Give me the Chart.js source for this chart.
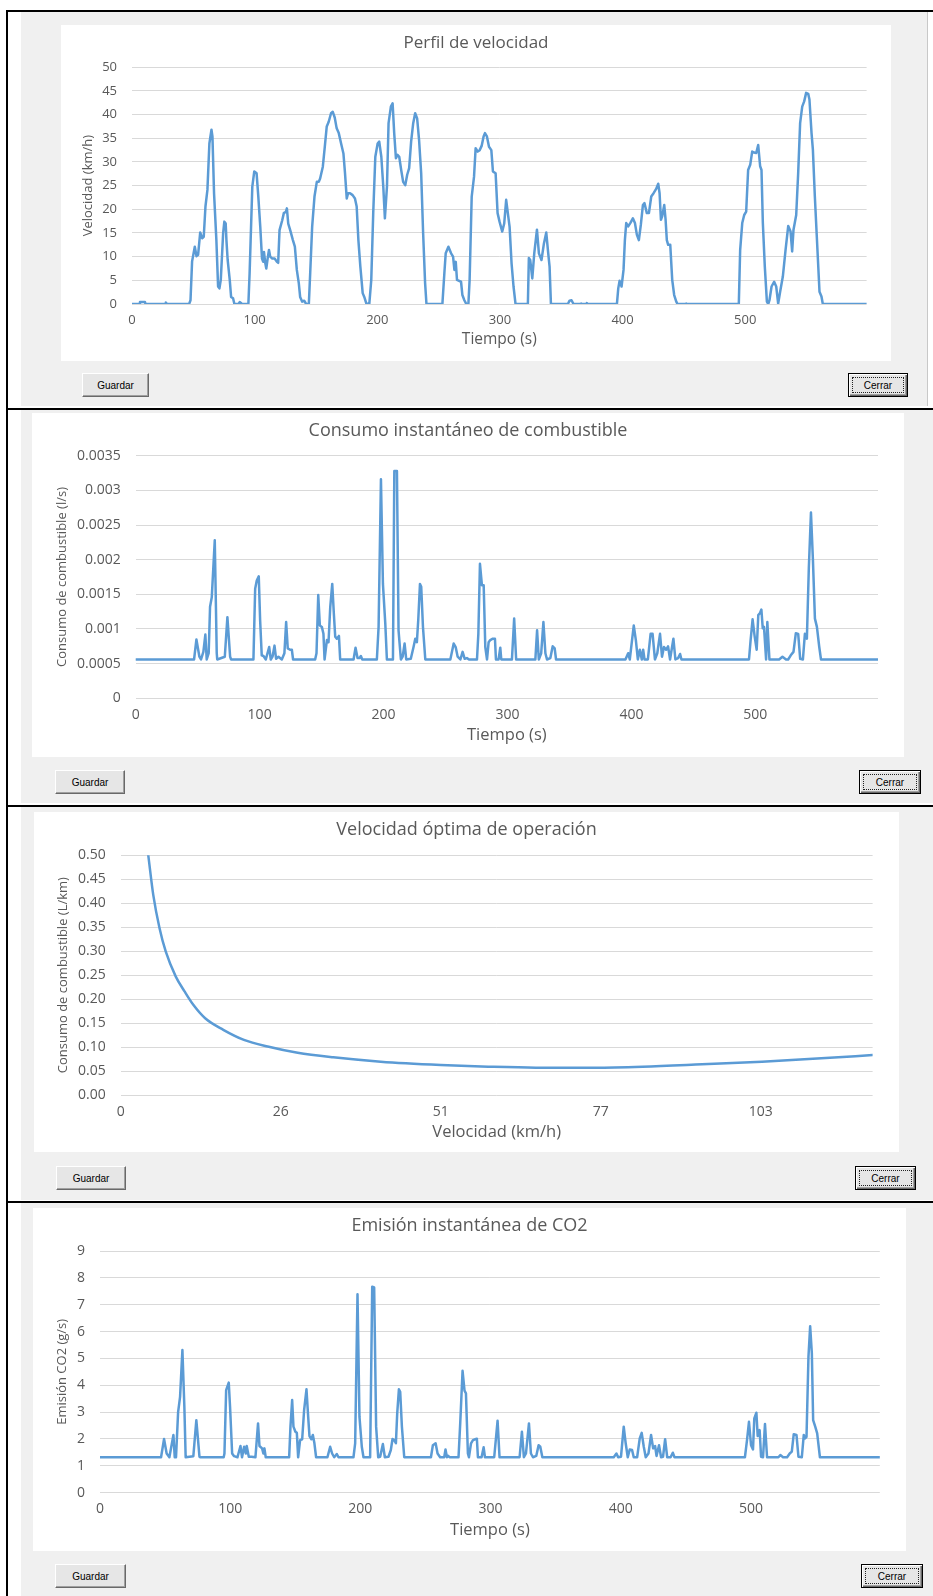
<!DOCTYPE html>
<html lang="es">
<head>
<meta charset="utf-8">
<title>Perfil de velocidad, consumo y emisiones</title>
<script src="https://cdn.jsdelivr.net/npm/chart.js@4.4.1/dist/chart.umd.min.js"></script>
<style>
  body { margin: 0; width: 933px; height: 1596px; position: relative; background: #fff; overflow: hidden; }
  .linea { position: absolute; background: #000; }
  .form { position: absolute; background: #f0f0f0; }
  canvas { position: absolute; background: #fff; }
  .boton {
    position: absolute; box-sizing: border-box; height: 24px;
    background: #e6e6e6; color: #000;
    border: 1px solid; border-color: #fff #696969 #696969 #fff;
    box-shadow: inset -1px -1px 0 #a0a0a0;
    font: 10px "Liberation Sans", Arial, sans-serif;
    display: flex; align-items: center; justify-content: center;
  }
  .boton.defecto { border: 1px solid #000; box-shadow: inset 1px 1px 0 #fff, inset -1px -1px 0 #696969, inset -2px -2px 0 #a0a0a0; }
  .boton.defecto::after { content: ''; position: absolute; left: 3px; top: 3px; right: 3px; bottom: 3px; border: 1px dotted #222; }
</style>
</head>
<body>

<!-- marcos de los cuatro formularios -->
<div class="linea" style="left:6px; top:10px; width:2px; height:1586px"></div>
<div class="linea" style="left:6px; top:10px; width:927px; height:2px"></div>
<div class="form" style="left:21px; top:12px; width:906px; height:394px; border-right:1px solid #c8c8c8"></div>
<div class="linea" style="left:6px; top:408px; width:927px; height:2px"></div>
<div class="form" style="left:21px; top:410px; width:912px; height:393px"></div>
<div class="linea" style="left:6px; top:805px; width:927px; height:2px"></div>
<div class="form" style="left:21px; top:807px; width:912px; height:393px"></div>
<div class="linea" style="left:6px; top:1201px; width:927px; height:2px"></div>
<div class="form" style="left:21px; top:1203px; width:912px; height:393px"></div>

<canvas id="graficoVelocidad" width="830" height="336" style="left:61px; top:25px"></canvas>
<canvas id="graficoConsumo" width="872" height="344" style="left:32px; top:413px"></canvas>
<canvas id="graficoOptima" width="865" height="340" style="left:34px; top:812px"></canvas>
<canvas id="graficoCO2" width="873" height="343" style="left:33px; top:1208px"></canvas>

<div class="boton" style="left:82px; top:373px; width:67px">Guardar</div>
<div class="boton defecto" style="left:848px; top:373px; width:60px">Cerrar</div>
<div class="boton" style="left:55px; top:770px; width:70px">Guardar</div>
<div class="boton defecto" style="left:859px; top:770px; width:62px">Cerrar</div>
<div class="boton" style="left:56px; top:1166px; width:70px">Guardar</div>
<div class="boton defecto" style="left:855px; top:1166px; width:61px">Cerrar</div>
<div class="boton" style="left:55px; top:1564px; width:71px">Guardar</div>
<div class="boton defecto" style="left:861px; top:1564px; width:62px">Cerrar</div>

<script>
// Marcas del eje de tiempo (s)
const ticksTiempo = [0, 100, 200, 300, 400, 500];

// Perfil de velocidad (km/h) frente al tiempo (s)
const tiempoVel = [0, 6, 6.5, 10.6, 11, 27, 27.6, 28.5, 46.6, 47.7, 49, 51.2, 52.6, 53.9, 55.6, 57.2, 58.5, 59.9, 61.5, 63.1,
  64.8, 65.6, 66.9, 68.8, 70.2, 71.3, 72.4, 74.3, 75.3, 76.4, 77, 78, 79.7, 80.8, 82.4, 83.5, 86.8, 87.8, 89.4, 90,
  94.9, 95.9, 98.1, 99.7, 101.6, 103, 104.6, 106, 107, 107.6, 108.7, 109.5, 110.6, 111.7, 112.7, 114.4, 116.3, 118.2, 119.2, 120.3,
  122.5, 123.8, 125.5, 126.3, 127.4, 129, 131.2, 132.8, 134.4, 136, 137.1, 138.8, 140.4, 142, 144.2, 145.3, 146.9, 148.8, 150.7, 152.3,
  153.4, 155.6, 157.2, 158.8, 160.4, 162.3, 163.7, 165.3, 166.9, 168.6, 170.5, 172.4, 173.7, 175.1, 176.2, 177.8, 179.9, 181.8, 183.2, 184.6,
  186.2, 188.1, 189.4, 191.1, 193.5, 195.1, 196.7, 198.4, 200.3, 201.6, 203.3, 204.9, 206.2, 207.9, 209.2, 211.1, 212.5, 213.8, 215.2, 216.5,
  217.9, 219.5, 221.1, 222.8, 224.4, 226, 227.6, 229.3, 230.9, 232.5, 234.1, 235.8, 237.4, 239, 240.1, 253.1, 254.7, 255.8, 258, 260.2,
  261.8, 262.9, 264, 265, 266.7, 268.3, 269.4, 271, 272.6, 274.3, 275.3, 277, 278.9, 280.2, 281.9, 283.5, 285.1, 286.7, 287.8, 289.4,
  291.1, 293, 294.3, 296.5, 298.1, 299.7, 301.9, 303.5, 305.1, 306.8, 307.9, 309.5, 311.1, 312.7, 313.3, 322.8, 323.6, 324.7, 326.4, 328,
  330.2, 331.8, 333.9, 335.9, 337.8, 339.4, 340.5, 341.6, 355.4, 356.8, 358.4, 360, 365.5, 366.3, 367, 370.2, 370.9, 371.6, 395.4, 396.5,
  397.6, 399.2, 400.8, 401.9, 403, 404.6, 406.3, 408.4, 410.1, 411.7, 413.3, 414.9, 416.6, 417.9, 419.8, 421.5, 423.4, 425.3, 427.4, 429.1,
  430.2, 431.3, 432.3, 434, 435.1, 436.1, 437.2, 438.9, 440.5, 442.1, 443.8, 444.8, 451.2, 451.9, 452.6, 494.8, 495.9, 497.6, 499.2, 500.8,
  502.4, 504.1, 505.7, 507.3, 509, 510.6, 512.2, 513.3, 514.4, 516, 517.7, 518.8, 519.8, 521.5, 523.6, 525.3, 526.9, 528.5, 530.7, 532.9,
  535.1, 537, 538.3, 539.4, 541.6, 543.2, 544.8, 546.5, 548.1, 549.7, 551.4, 552.4, 554.1, 555.2, 556.8, 558.4, 560.6, 562.2, 563.3, 599];
const velocidad = [0, 0, 0.4, 0.4, 0, 0, 0.3, 0, 0, 0.8, 9, 12.1, 10.1, 10.4, 15.1, 13.9, 14.2, 20.6, 24.1, 33.9,
  36.8, 35.4, 23.4, 13.5, 3.7, 3.3, 5.1, 14.9, 17.4, 17, 13.5, 9.3, 5.1, 1.5, 1.2, 0, 0, 0.4, 0.1, 0,
  0, 6.5, 24.8, 28, 27.6, 22.7, 16.3, 9.6, 8.9, 11, 8.6, 7.5, 9.6, 11.4, 10, 9.6, 9.6, 8.9, 8.7, 15.6,
  17.7, 19.2, 19.5, 20.2, 17, 15.6, 13.5, 12.1, 7.2, 4.4, 1.5, 0.5, 0.7, 0, 0, 6.5, 16.3, 22.7, 25.8, 25.8,
  26.5, 29, 33.2, 37.5, 38.5, 40.3, 40.6, 39.4, 37.1, 36.1, 33.9, 31.8, 27.6, 22.3, 23.4, 23.4, 23, 22.3, 20.6, 13.5,
  7.9, 2.3, 1.5, 0.1, 0, 5.1, 19.2, 31.1, 33.9, 34.3, 31.1, 24.8, 18.1, 24.8, 38.2, 41.7, 42.4, 36.1, 30.8, 31.5,
  31.1, 28.3, 25.8, 25.1, 27.3, 28.7, 34.3, 38.2, 40.3, 39.2, 34.6, 27.6, 14.9, 4.4, 0, 0, 6.5, 10.7, 12.1, 10.7,
  10, 7.2, 8.9, 5.1, 4.9, 4.7, 1.9, 0.8, 0, 0, 5.1, 22.7, 26.9, 32.9, 32.2, 32.5, 33.4, 35.4, 36.1, 35.4,
  33.2, 32.5, 28, 27.6, 19.2, 17.4, 15.3, 17, 22, 18.5, 16.3, 8.6, 3.7, 0.1, 0, 0, 9.7, 9.3, 5.4, 10.7,
  15.7, 10.7, 9.3, 12.8, 15.1, 10.7, 7.9, 0, 0, 0.7, 0.8, 0, 0, 0.1, 0, 0, 0.2, 0, 0, 3.3,
  4.9, 3.7, 7.2, 13.5, 17.1, 16.4, 17.1, 18.1, 17.1, 14.6, 13.5, 16.7, 20.9, 21.3, 19.2, 19.2, 22.7, 23.4, 24.3, 25.4,
  23.4, 17.8, 18.5, 20.9, 17.8, 13.5, 12.5, 12.5, 5.1, 1.9, 0.5, 0, 0, 0.1, 0, 0, 11.4, 17.1, 18.8, 19.5,
  28.3, 29.4, 32.2, 32, 31.9, 33.6, 29.1, 28.3, 17.1, 7.9, 0.5, 0, 0.8, 3.7, 4.7, 3.7, 0.1, 2.6, 5.8, 11.4,
  16.5, 15.3, 11.1, 15.7, 18.8, 27.6, 38.2, 41.7, 42.8, 44.6, 44.4, 43.2, 36.1, 32.6, 22.7, 14.2, 2.6, 1.6, 0, 0];

// Consumo instantaneo de combustible (l/s)
const tiempoCons = [0, 47.1, 49, 51.4, 52.7, 54.6, 56.2, 57.3, 58.9, 60, 61.4, 63.8, 65.4, 65.8, 71.9, 74, 76.2, 77, 95, 96.4,
  97.7, 99.3, 100.4, 101.7, 103.1, 105, 107.7, 109, 110.4, 112, 113.3, 115.2, 117.9, 120, 121.4, 122.7, 124.6, 126, 127, 144.8,
  145.9, 147.3, 148.6, 150.2, 151.5, 152.4, 154.3, 155.6, 157, 158.6, 159.9, 161, 162.3, 164, 165, 175.8, 177.4, 179, 180.6, 181.7,
  182.8, 194.6, 196, 197.9, 199.5, 201.4, 202.7, 207.6, 208.7, 210.8, 212.1, 214, 215.4, 217, 218.3, 222, 224.2, 225.6, 226.9, 228,
  229.4, 230.4, 231.8, 233.7, 253.9, 256.6, 258.2, 259.8, 262, 263.8, 265.5, 267.3, 269, 275.4, 276.5, 277.8, 279.4, 280.8, 282.1, 283.5,
  284.8, 286.1, 288.2, 289.9, 290.7, 292.8, 294.2, 295, 303.6, 305.4, 307, 322.5, 323.9, 325.3, 327.2, 329, 330.6, 331.9, 334.6, 336.5,
  338.1, 339.2, 395.2, 397.4, 398.7, 401.9, 403.6, 405.2, 406.8, 408.4, 409.5, 410.6, 413.3, 415.5, 417.1, 419, 420.9, 423.1, 424.7, 426.3,
  428, 429.6, 431.2, 433.9, 435.5, 437.7, 439.3, 440.4, 494.9, 496.2, 497.8, 499.5, 501.1, 502.4, 503.8, 504.9, 506, 507, 508.7, 509.7,
  511.4, 519.2, 521.9, 524.8, 526.5, 528.6, 530.8, 532.7, 534.6, 536.2, 538.4, 540, 541.6, 543.2, 544.9, 546.5, 548.1, 549.7, 551.6, 553,
  599];
const consumo = [0.00056, 0.00056, 0.00085, 0.0006, 0.00056, 0.00067, 0.00092, 0.00056, 0.00065, 0.00132, 0.00146, 0.00228, 0.00065, 0.00056, 0.0006, 0.00117, 0.0006, 0.00056, 0.00056, 0.00158,
  0.0017, 0.00176, 0.00113, 0.00062, 0.00061, 0.00056, 0.00074, 0.00056, 0.0006, 0.00076, 0.00057, 0.0006, 0.00056, 0.00065, 0.0011, 0.00072, 0.0007, 0.0007, 0.00056, 0.00056,
  0.00065, 0.00149, 0.00105, 0.00103, 0.00093, 0.00056, 0.00084, 0.00081, 0.00132, 0.00165, 0.00122, 0.00089, 0.00086, 0.0009, 0.00056, 0.00056, 0.00073, 0.00058, 0.00058, 0.00061,
  0.00056, 0.00056, 0.00103, 0.00316, 0.00165, 0.00108, 0.00056, 0.00056, 0.00328, 0.00328, 0.00098, 0.00056, 0.0006, 0.00079, 0.00056, 0.00057, 0.00074, 0.00086, 0.00081, 0.00113,
  0.00165, 0.00161, 0.00103, 0.00056, 0.00056, 0.00079, 0.00074, 0.0006, 0.00056, 0.00067, 0.00057, 0.00058, 0.00056, 0.00056, 0.00093, 0.00194, 0.00163, 0.00163, 0.00074, 0.00056,
  0.00081, 0.00084, 0.00086, 0.00086, 0.00056, 0.00056, 0.00073, 0.00056, 0.00056, 0.00115, 0.00056, 0.00056, 0.00098, 0.00056, 0.00065, 0.0011, 0.00065, 0.00056, 0.00058, 0.00075,
  0.00072, 0.00056, 0.00056, 0.00065, 0.00056, 0.00105, 0.00084, 0.00056, 0.0007, 0.00056, 0.0007, 0.00056, 0.00056, 0.00093, 0.00093, 0.00056, 0.00065, 0.00093, 0.0006, 0.00074,
  0.0007, 0.00075, 0.00056, 0.00086, 0.00056, 0.00058, 0.00064, 0.00056, 0.00056, 0.00084, 0.00114, 0.00089, 0.0007, 0.0012, 0.00123, 0.00128, 0.00101, 0.00103, 0.00056, 0.0011,
  0.00056, 0.00056, 0.0006, 0.00056, 0.00056, 0.00062, 0.00067, 0.00094, 0.00093, 0.00057, 0.00056, 0.00093, 0.00086, 0.00189, 0.00268, 0.00199, 0.00115, 0.00103, 0.00074, 0.00056,
  0.00056];
const etiquetasConsumo = ['0', '0.0005', '0.001', '0.0015', '0.002', '0.0025', '0.003', '0.0035'];

// Velocidad optima de operacion: consumo (L/km) frente a velocidad (km/h)
const velOptima = [4.4, 5.2, 6.2, 7.2, 8.8, 10.2, 11.6, 13.5, 16.4, 19.7, 23.5, 28.3, 34, 41.6, 51.2, 58.8, 66.4,
  75.9, 83.5, 93, 102.6, 112.1, 120.3];
const consumoKm = [0.5, 0.417, 0.348, 0.299, 0.247, 0.216, 0.188, 0.16, 0.136, 0.115, 0.101, 0.088, 0.0786, 0.0695, 0.0626, 0.059, 0.057,
  0.057, 0.059, 0.064, 0.0695, 0.0765, 0.0834];
const posTicksOptima = [0, 25.6, 51.2, 76.8, 102.4];
const etiquetasOptima = ['0', '26', '51', '77', '103'];
const etiquetasConsumoKm = ['0.00', '0.05', '0.10', '0.15', '0.20', '0.25', '0.30', '0.35', '0.40', '0.45', '0.50'];

// Emision instantanea de CO2 (g/s)
const tiempoCO2 = [0, 46.9, 49.2, 51.2, 53.3, 56.4, 57.4, 58.4, 60, 61.5, 63.3, 64.8, 65.8, 71.7, 74, 76.4, 77, 95, 95.6, 96.9, 98.9,
  99.9, 101.5, 103, 105.6, 107.9, 109.1, 110.7, 112, 112.7, 114.3, 116.3, 119.4, 121.4, 122.5, 124.5, 125.5, 126.3, 127.3, 145.3, 146.3,
  147.6, 148.6, 150.1, 151.2, 152.2, 153.7, 155.3, 156.8, 158.6, 159.9, 160.9, 162.4, 163.5, 164.7, 166, 174.7, 176.8, 178.3, 179.9, 181.9,
  183.2, 194.7, 196, 197.8, 199.3, 201.1, 202.4, 207.5, 209.1, 210.6, 212.1, 213.7, 215.2, 217.3, 218.8, 221.6, 223.4, 224.7, 226, 227.3,
  228.3, 229.6, 230.6, 231.9, 233.7, 254.2, 255.7, 257.8, 259.3, 261.3, 264.4, 265.4, 266.5, 267.5, 268.5, 275.4, 276.7, 278.5, 280, 281.1,
  282.6, 283.4, 285, 286.5, 288.2, 289.5, 290.3, 293.1, 294.7, 295.7, 302.8, 305.4, 306.9, 322.3, 324.1, 325.6, 327.2, 329.5, 331, 332.6,
  335.1, 336.9, 338.2, 339.8, 394.6, 396.7, 398, 400.2, 402.3, 403.8, 405.4, 406.9, 408.7, 410, 412.6, 414.6, 416.1, 417.7, 419.2, 421.3,
  423.3, 424.9, 426.4, 427.5, 429.4, 431, 432.5, 434.1, 435.7, 438.3, 440, 441.3, 495.4, 497, 498.5, 500.1, 501.6, 502.6, 504.2, 505.2,
  506.7, 507.8, 509.3, 510.8, 512.4, 521.1, 522.6, 524.7, 527.8, 529.8, 531.4, 532.9, 535, 536.5, 539.1, 540.6, 541.6, 542.7, 544.2, 545.5,
  546.8, 547.8, 549.4, 550.9, 553, 599];
const emisionCO2 = [1.32, 1.32, 2, 1.46, 1.32, 2.15, 1.32, 1.32, 3, 3.57, 5.31, 3.2, 1.32, 1.36, 2.7, 1.34, 1.32, 1.32, 1.46, 3.82, 4.1,
  3.2, 1.46, 1.36, 1.32, 1.74, 1.32, 1.71, 1.46, 1.74, 1.34, 1.34, 1.32, 2.58, 1.74, 1.65, 1.46, 1.65, 1.32, 1.32, 2.46,
  3.45, 2.46, 2.27, 2.23, 1.32, 1.96, 1.99, 3.08, 3.85, 2.83, 2.11, 1.99, 2.15, 1.84, 1.32, 1.32, 1.71, 1.46, 1.32, 1.44,
  1.32, 1.32, 1.84, 7.39, 2.83, 1.71, 1.32, 1.32, 7.67, 7.64, 2.46, 1.32, 1.34, 1.81, 1.32, 1.34, 1.59, 2, 1.96, 1.84,
  2.95, 3.85, 3.76, 2.46, 1.32, 1.32, 1.77, 1.84, 1.46, 1.32, 1.32, 1.61, 1.32, 1.37, 1.32, 1.32, 2.58, 4.54, 3.8, 3.7,
  1.46, 1.32, 1.84, 1.96, 1.99, 2.01, 1.32, 1.32, 1.69, 1.32, 1.32, 2.68, 1.32, 1.32, 2.27, 1.32, 1.46, 2.58, 1.46, 1.32,
  1.37, 1.77, 1.71, 1.32, 1.32, 1.46, 1.32, 1.34, 2.46, 1.84, 1.32, 1.61, 1.59, 1.32, 1.32, 2.02, 2.23, 1.71, 1.32, 1.46,
  2.15, 1.65, 1.74, 1.37, 1.77, 1.32, 1.34, 1.99, 1.32, 1.32, 1.49, 1.32, 1.32, 1.96, 2.64, 1.77, 1.61, 2.77, 2.98, 2.11,
  2.33, 1.34, 1.32, 2.56, 1.32, 1.32, 1.4, 1.32, 1.32, 1.46, 1.53, 2.18, 2.15, 1.34, 1.32, 2.15, 2.02, 2.08, 5.06, 6.2,
  5.19, 2.7, 2.46, 2.21, 1.32, 1.32];

const azul = '#5B9BD5';
const gris = '#595959';
const rejilla = '#D9D9D9';
Chart.defaults.font.family = '"Open Sans", sans-serif';
Chart.defaults.color = gris;

// Crea un grafico de linea tipo Excel; los margenes fijan el area de trazado en pixeles
function crearGrafico(id, o) {
  const canvas = document.getElementById(id);
  const W = canvas.width, H = canvas.height;
  const lhTitulo = o.tamTitulo * 1.2, lhY = o.tamTituloY * 1.2, lhX = o.tamTituloX * 1.2;
  return new Chart(canvas.getContext('2d'), {
    type: 'line',
    data: {
      datasets: [{
        data: o.x.map((v, i) => ({ x: v, y: o.y[i] })),
        borderColor: azul,
        borderWidth: 2.5,
        borderJoinStyle: 'round',
        borderCapStyle: 'round',
        pointRadius: 0,
        fill: false,
        tension: 0,
        cubicInterpolationMode: o.suave ? 'monotone' : 'default'
      }]
    },
    options: {
      responsive: false,
      animation: false,
      layout: { padding: 0 },
      plugins: {
        legend: { display: false },
        tooltip: { enabled: false },
        title: {
          display: true,
          text: o.titulo,
          color: gris,
          font: { size: o.tamTitulo, weight: 'normal' },
          padding: { top: o.yTitulo - lhTitulo / 2, bottom: o.area.top - (o.yTitulo + lhTitulo / 2) }
        }
      },
      scales: {
        x: {
          type: 'linear',
          min: o.xMin, max: o.xMax,
          grid: { display: false, drawTicks: false },
          border: { display: false },
          ticks: {
            maxRotation: 0, autoSkip: false,
            font: { size: o.tamTicksX }, padding: o.padTicksX, color: gris,
            callback: o.etiquetasX ? (v, i) => o.etiquetasX[i] : (v) => v
          },
          afterBuildTicks: (s) => { s.ticks = o.posTicksX.map(v => ({ value: v })); },
          title: {
            display: true, text: o.tituloX, color: gris,
            font: { size: o.tamTituloX },
            padding: { top: 0, bottom: H - o.xTituloY - lhX / 2 }
          },
          afterFit: (s) => { s.height = H - o.area.bottom; }
        },
        y: {
          min: o.yMin, max: o.yMax,
          grid: { color: rejilla, lineWidth: 1, drawTicks: false },
          border: { display: false },
          ticks: {
            stepSize: o.yPaso, font: { size: o.tamTicksY }, padding: 15, color: gris,
            callback: o.etiquetasY ? (v, i) => o.etiquetasY[i] : (v) => v
          },
          title: {
            display: true, text: o.tituloY, color: gris,
            font: { size: o.tamTituloY },
            padding: { top: o.yTituloX - lhY / 2, bottom: 0 }
          },
          afterFit: (s) => { s.width = o.area.left; }
        },
        margenDerecho: {
          position: 'right',
          display: true,
          grid: { display: false, drawTicks: false },
          border: { display: false },
          ticks: { display: false },
          afterFit: (s) => { s.width = W - o.area.right; }
        }
      }
    }
  });
}

crearGrafico('graficoVelocidad', {
  x: tiempoVel, y: velocidad,
  titulo: 'Perfil de velocidad', tamTitulo: 17, yTitulo: 18,
  tituloX: 'Tiempo (s)', tamTituloX: 15.5, xTituloY: 315,
  tituloY: 'Velocidad (km/h)', tamTituloY: 13, yTituloX: 27.3,
  area: { left: 71, right: 805.6, top: 42.3, bottom: 279 },
  xMin: 0, xMax: 599, posTicksX: ticksTiempo, tamTicksX: 13, padTicksX: 8.9,
  yMin: 0, yMax: 50, yPaso: 5, tamTicksY: 13
});

crearGrafico('graficoConsumo', {
  x: tiempoCons, y: consumo,
  titulo: 'Consumo instantáneo de combustible', tamTitulo: 18, yTitulo: 17.7,
  tituloX: 'Tiempo (s)', tamTituloX: 16.5, xTituloY: 322.7,
  tituloY: 'Consumo de combustible (l/s)', tamTituloY: 13, yTituloX: 30.2,
  area: { left: 103.7, right: 846, top: 42.7, bottom: 285.3 },
  xMin: 0, xMax: 599, posTicksX: ticksTiempo, tamTicksX: 14, padTicksX: 8.6,
  yMin: 0, yMax: 0.0035, yPaso: 0.0005, tamTicksY: 14, etiquetasY: etiquetasConsumo
});

crearGrafico('graficoOptima', {
  x: velOptima, y: consumoKm, suave: true,
  titulo: 'Velocidad óptima de operación', tamTitulo: 18, yTitulo: 18,
  tituloX: 'Velocidad (km/h)', tamTituloX: 16.5, xTituloY: 320.3,
  tituloY: 'Consumo de combustible (L/km)', tamTituloY: 13, yTituloX: 29.4,
  area: { left: 86.8, right: 838.6, top: 43.3, bottom: 283 },
  xMin: 0, xMax: 120.3, tamTicksX: 14, padTicksX: 8.3,
  posTicksX: posTicksOptima, etiquetasX: etiquetasOptima,
  yMin: 0, yMax: 0.5, yPaso: 0.05, tamTicksY: 14, etiquetasY: etiquetasConsumoKm
});

crearGrafico('graficoCO2', {
  x: tiempoCO2, y: emisionCO2,
  titulo: 'Emisión instantánea de CO2', tamTitulo: 18, yTitulo: 18,
  tituloX: 'Tiempo (s)', tamTituloX: 16.5, xTituloY: 322,
  tituloY: 'Emisión CO2 (g/s)', tamTituloY: 13, yTituloX: 29.5,
  area: { left: 67, right: 846.8, top: 43, bottom: 284.7 },
  xMin: 0, xMax: 599, posTicksX: ticksTiempo, tamTicksX: 14, padTicksX: 7.9,
  yMin: 0, yMax: 9, yPaso: 1, tamTicksY: 14
});
</script>
</body>
</html>
